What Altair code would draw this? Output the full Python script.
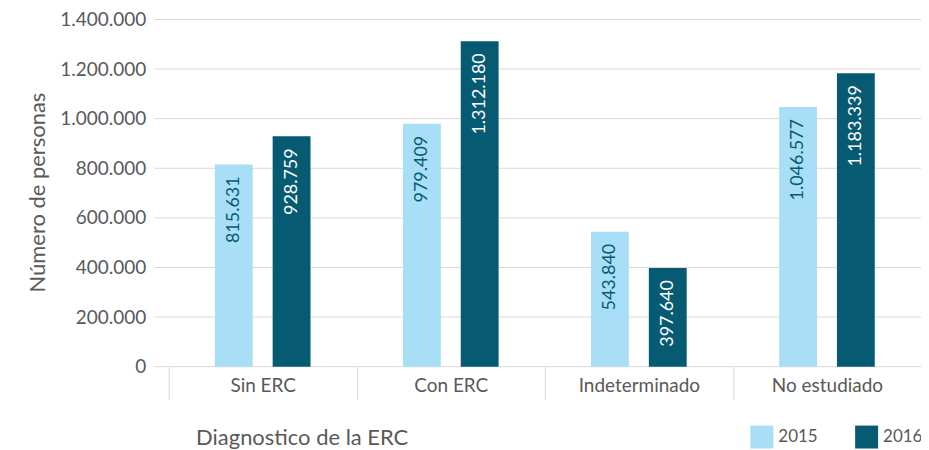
import altair as alt
import pandas as pd

categories = ["Sin ERC", "Con ERC", "Indeterminado", "No estudiado"]
years = ["2015", "2016"]
values_2015 = [815631, 979409, 543840, 1046577]
values_2016 = [928759, 1312180, 397640, 1183339]
y_ticks = [0, 200000, 400000, 600000, 800000, 1000000, 1200000, 1400000]

rows = []
for c, v15, v16 in zip(categories, values_2015, values_2016):
    for yr, v in (("2015", v15), ("2016", v16)):
        rows.append({"cat": c, "year": yr, "value": v,
                     "label": f"{v:,}".replace(",", ".")})
df = pd.DataFrame(rows)
grid_df = pd.DataFrame({"value": y_ticks})

FONT = "Lato"
GRAY = "#595959"
LIGHT = "#a8def6"
DARK = "#065b73"

yscale = alt.Scale(domain=[0, 1400000], nice=False, zero=True)
xscale = alt.Scale(domain=categories, paddingInner=0, paddingOuter=0)
xoff_scale = alt.Scale(domain=years, paddingInner=0.345, paddingOuter=0.8)

grid = alt.Chart(grid_df).mark_rule(color="#d9d9d9", strokeWidth=1).encode(
    y=alt.Y("value:Q", scale=yscale),
    x=alt.value(-14),
    x2=alt.value(754),
)

bars = alt.Chart(df).mark_bar().encode(
    x=alt.X("cat:N", sort=categories, scale=xscale,
            axis=alt.Axis(title="Diagnostico de la ERC", domain=False, ticks=True,
                          tickBand="extent", tickSize=33, tickColor="#d9d9d9",
                          labelAngle=0, labelFontSize=19, labelColor=GRAY,
                          labelFont=FONT, labelPadding=-23, labelBaseline="top",
                          titleFont=FONT, titleFontSize=22, titleFontWeight="normal",
                          titleColor=GRAY, titleAnchor="start", titleAlign="left",
                          titleX=27, titleY=71, titleBaseline="middle")),
    xOffset=alt.XOffset("year:N", scale=xoff_scale),
    y=alt.Y("value:Q", scale=yscale,
            axis=alt.Axis(title="Número de personas", values=y_ticks, grid=False,
                          domain=False, ticks=False, labelPadding=23,
                          labelFont=FONT, labelFontSize=19, labelColor=GRAY,
                          labelExpr="replace(replace(format(datum.value, ','), ',', '.'), ',', '.')",
                          titleFont=FONT, titleFontSize=22, titleFontWeight="normal",
                          titleColor=GRAY, titleX=-131, titleY=173, titleAngle=270,
                          titleAlign="center", titleBaseline="middle")),
    color=alt.Color("year:N", scale=alt.Scale(domain=years, range=[LIGHT, DARK]),
                    legend=alt.Legend(title=None, orient="none", legendX=583, legendY=407,
                                      direction="horizontal", symbolType="square",
                                      symbolSize=529, symbolStrokeWidth=0,
                                      labelFont=FONT, labelFontSize=17, labelColor=GRAY,
                                      labelOffset=5, columnPadding=37)),
)

text = alt.Chart(df).mark_text(angle=270, align="right", baseline="middle", dx=-12,
                               fontSize=18, font=FONT).encode(
    x=alt.X("cat:N", sort=categories, scale=xscale),
    xOffset=alt.XOffset("year:N", scale=xoff_scale),
    y=alt.Y("value:Q", scale=yscale),
    text="label:N",
    color=alt.condition(alt.datum.year == "2015", alt.value(DARK), alt.value("white")),
)

chart = alt.layer(grid, bars, text).properties(
    width=754, height=348,
    autosize=alt.AutoSizeParams(type="none"),
    padding={"left": 161, "top": 11, "right": 0, "bottom": 82},
).configure_view(stroke=None)

chart.save("out.html", embed_options={"renderer": "svg", "actions": False})
